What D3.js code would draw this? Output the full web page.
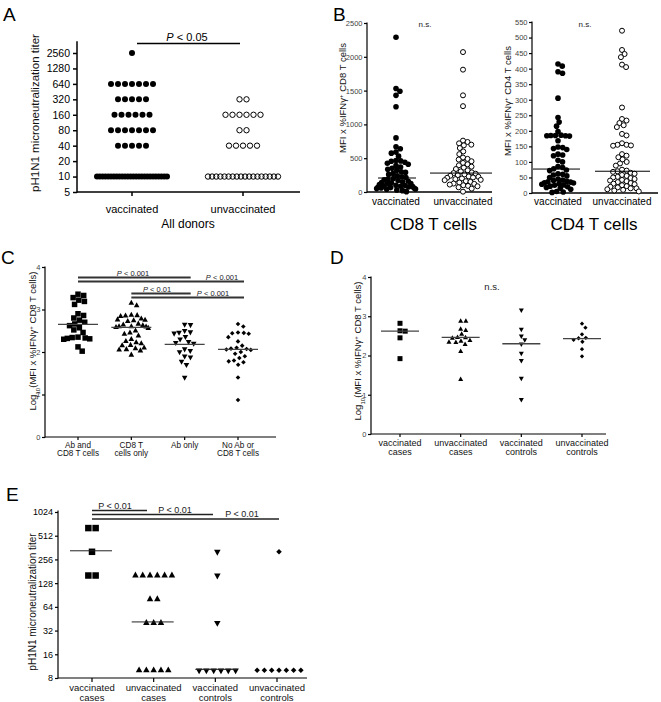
<!DOCTYPE html>
<html><head><meta charset="utf-8">
<script src="https://cdn.jsdelivr.net/npm/d3@7"></script>
<style>body{margin:0;background:#fff}</style>
</head><body><svg id="c" width="661" height="702"></svg>
<script>
// ---------------- DATA ----------------
const titerCats = ["vaccinated", "unvaccinated"];
const titerTicks = [5, 10, 20, 40, 80, 160, 320, 640, 1280, 2560];
const titerVacc = [2560,
  640, 640, 640, 640, 640, 640, 640,
  320, 320, 320, 320, 320,
  160, 160, 160, 160, 160, 160,
  80, 80, 80, 80, 80, 80, 80,
  40, 40, 40, 40, 40,
  10, 10, 10, 10, 10, 10, 10, 10, 10, 10, 10, 10, 10, 10, 10, 10, 10, 10, 10, 10, 10, 10, 10, 10, 10, 10];
const titerUnvacc = [320, 320,
  160, 160, 160, 160, 160, 160,
  80, 80,
  40, 40, 40, 40, 40,
  10, 10, 10, 10, 10, 10, 10, 10, 10, 10, 10, 10, 10, 10, 10, 10, 10, 10];

const cd8Ticks = [0, 500, 1000, 1500, 2000, 2500];
const cd8Vacc = [2290, 1530, 1490, 1430, 1260, 800, 670, 640, 590, 575, 530, 465, 460, 455, 440, 425, 410, 390, 370, 350, 335, 320, 300, 290, 275, 260, 240, 225, 215, 200, 190, 180, 170, 160, 150, 140, 135, 125, 120, 110, 100, 95, 90, 85, 80, 75, 70, 65, 60, 55, 50, 45, 40, 30, 20, 5];
const cd8Unvacc = [2070, 1810, 1430, 1270, 760, 740, 720, 700, 690, 650, 600, 560, 510, 490, 480, 455, 430, 410, 395, 375, 360, 340, 320, 305, 290, 280, 270, 260, 250, 240, 230, 225, 215, 210, 200, 190, 180, 175, 160, 150, 140, 125, 120, 110, 100, 90, 85, 70, 50, 5];
const cd8Medians = [207, 280];

const cd4Ticks = [0, 50, 100, 150, 200, 250, 300, 350, 400, 450, 500, 550];
const cd4Vacc = [415, 408, 390, 385, 305, 243, 228, 215, 198, 186, 185, 185, 184, 184, 183, 168, 148, 146, 143, 140, 125, 122, 120, 105, 100, 85, 82, 78, 74, 72, 62, 60, 58, 55, 50, 45, 42, 40, 38, 36, 35, 33, 32, 30, 28, 26, 25, 22, 20, 18, 15, 12, 5, 3, 2];
const cd4Unvacc = [522, 460, 447, 437, 413, 405, 275, 238, 233, 225, 218, 212, 190, 185, 160, 155, 155, 153, 152, 125, 120, 115, 108, 100, 95, 88, 75, 72, 70, 68, 65, 62, 58, 55, 52, 50, 48, 45, 42, 40, 38, 35, 32, 30, 28, 25, 22, 20, 18, 15, 15, 12, 10, 8, 5];
const cd4Medians = [77, 70];

const logTicks = [0, 1, 2, 3, 4];
const groupCats = [["Ab and", "CD8 T cells"], ["CD8 T", "cells only"], ["Ab only"], ["No Ab or", "CD8 T cells"]];
const groupAbCd8 = [3.36, 3.33, 3.28, 3.22, 3.19, 3.12, 2.9, 2.86, 2.8, 2.75, 2.7, 2.66, 2.62, 2.57, 2.52, 2.46, 2.35, 2.34, 2.33, 2.32, 2.31, 2.3, 2.12, 2.02];
const groupCd8Only = [3.15, 3.09, 2.87, 2.86, 2.85, 2.84, 2.78, 2.76, 2.75, 2.74, 2.72, 2.66, 2.64, 2.62, 2.6, 2.6, 2.59, 2.58, 2.56, 2.5, 2.45, 2.42, 2.38, 2.3, 2.25, 2.22, 2.2, 2.16, 2.15, 2.1, 2.08, 2.06, 2.05, 2.03, 1.93];
const groupAbOnly = [2.65, 2.64, 2.5, 2.47, 2.46, 2.44, 2.36, 2.3, 2.24, 2.22, 2.2, 2.07, 2.03, 2.0, 1.9, 1.88, 1.78, 1.7, 1.4];
const groupNone = [2.66, 2.6, 2.46, 2.45, 2.44, 2.43, 2.35, 2.25, 2.15, 2.1, 2.08, 2.07, 2.06, 2.05, 2.0, 1.96, 1.9, 1.86, 1.8, 1.78, 1.76, 1.7, 1.4, 0.87];
const groupMedians = [2.65, 2.58, 2.18, 2.06];
const groupTests = [
  {a: 0, b: 2, label: "P < 0.001"},
  {a: 0, b: 3, label: "P < 0.001"},
  {a: 1, b: 2, label: "P < 0.01"},
  {a: 1, b: 3, label: "P < 0.001"}];

const caseCats = [["vaccinated", "cases"], ["unvaccinated", "cases"], ["vaccinated", "controls"], ["unvaccinated", "controls"]];
const caseLogVC = [2.82, 2.63, 2.62, 2.45, 1.92];
const caseLogUC = [2.87, 2.87, 2.67, 2.64, 2.54, 2.46, 2.45, 2.44, 2.38, 2.36, 2.34, 2.33, 2.28, 2.1, 1.39];
const caseLogVK = [3.16, 2.67, 2.5, 2.4, 2.29, 2.06, 1.87, 1.42, 0.88];
const caseLogUK = [2.81, 2.71, 2.54, 2.45, 2.44, 2.4, 2.35, 2.16, 1.98];
const caseLogMedians = [2.62, 2.46, 2.3, 2.43];

const caseTiterTicks = [8, 16, 32, 64, 128, 256, 512, 1024];
const caseTiterVC = [640, 640, 320, 160, 160];
const caseTiterUC = [160, 160, 160, 160, 160, 160, 80, 80, 40, 40, 40, 10, 10, 10, 10, 10];
const caseTiterVK = [320, 160, 40, 10, 10, 10, 10, 10, 10];
const caseTiterUK = [320, 10, 10, 10, 10, 10, 10, 10];
const caseTiterMedians = [320, 40, 10, null];
const caseTiterTests = [
  {b: 1, label: "P < 0.01"},
  {b: 2, label: "P < 0.01"},
  {b: 3, label: "P < 0.01"}];

// ---------------- HELPERS ----------------
const FONT = '"Liberation Sans", Arial, Helvetica, sans-serif';
const svg = d3.select('#c').attr('font-family', FONT);

function yAxis(g, y, ticks, x, top, bottom, o) {
  const a = g.append('g').attr('transform', `translate(${x},0)`)
    .call(d3.axisLeft(y).tickValues(ticks).tickSize(o.ts).tickSizeOuter(0)
      .tickPadding(o.pad == null ? 2 : o.pad).tickFormat(o.fmt || d3.format('d')));
  a.select('.domain').remove();
  a.attr('font-family', FONT);
  a.selectAll('.tick line').attr('stroke', '#000').attr('stroke-width', o.sw);
  a.selectAll('.tick text').attr('font-size', o.fs).attr('fill', o.fill || '#000');
  a.append('line').attr('x1', 0).attr('x2', 0).attr('y1', top).attr('y2', bottom)
    .attr('stroke', '#000').attr('stroke-width', o.sw).attr('stroke-linecap', 'square');
}
function xAxis(g, xs, keys, y, left, right, o) {
  g.append('line').attr('x1', left).attr('x2', right).attr('y1', y).attr('y2', y)
    .attr('stroke', '#000').attr('stroke-width', o.sw);
  if (o.ts) keys.forEach(k => g.append('line').attr('x1', xs(k)).attr('x2', xs(k))
    .attr('y1', y).attr('y2', y + o.ts).attr('stroke', '#000').attr('stroke-width', o.sw));
}
function labels(g, xs, keys, lines, y0, lh, fs, fill) {
  keys.forEach((k, i) => {
    const t = g.append('text').attr('text-anchor', 'middle').attr('font-size', fs).attr('fill', fill || '#000');
    [].concat(lines[i]).forEach((s, j) => t.append('tspan').attr('x', xs(k)).attr('y', y0 + j * lh).text(s));
  });
}
function vTitle(g, x, y, fs, parts) {
  const t = g.append('text').attr('transform', `translate(${x},${y}) rotate(-90)`)
    .attr('text-anchor', 'middle').attr('font-size', fs).attr('fill', '#111');
  parts.forEach(p => {
    const s = t.append('tspan').text(p.t);
    if (p.sup) s.attr('baseline-shift', 'super').attr('font-size', fs * 0.65);
    if (p.sub) s.attr('baseline-shift', 'sub').attr('font-size', fs * 0.65);
  });
}
function pText(g, x, y, fs, label, fill, italic) {
  const t = g.append('text').attr('x', x).attr('y', y).attr('text-anchor', 'middle')
    .attr('font-size', fs).attr('fill', fill);
  t.append('tspan').attr('font-style', italic ? 'italic' : 'normal').text(label.slice(0, 1));
  t.append('tspan').text(label.slice(1));
}
function letter(x, y, s) {
  svg.append('text').attr('x', x).attr('y', y).attr('font-size', 19).text(s);
}
// beeswarm layout (optionally softly compressed to a maximum half-width)
function swarm(vals, y, cx, d, maxHalf) {
  const pts = vals.map(v => ({v, y: y(v)})).sort((a, b) => a.y - b.y);
  const placed = [];
  for (const p of pts) {
    const cands = [0];
    for (const q of placed) {
      const dy = Math.abs(q.y - p.y);
      if (dy < d) { const dx = Math.sqrt(d * d - dy * dy); cands.push(q.dx + dx + 0.01, q.dx - dx - 0.01); }
    }
    cands.sort((a, b) => Math.abs(a) - Math.abs(b));
    for (const c of cands) {
      if (placed.every(q => (q.dx - c) ** 2 + (q.y - p.y) ** 2 >= d * d - 0.02)) { p.dx = c; break; }
    }
    placed.push(p);
  }
  return placed.map(p => ({v: p.v, y: p.y,
    x: cx + (maxHalf ? maxHalf * Math.tanh(p.dx / maxHalf) : p.dx)}));
}
// row (column scatter) layout for tied values
function rows(vals, y, cx, step, maxW) {
  const groups = d3.group(vals, v => v);
  const out = [];
  for (const [v, arr] of groups) {
    const n = arr.length;
    const s = n > 1 ? Math.min(step, maxW / (n - 1)) : 0;
    arr.forEach((_, i) => out.push({v, y: y(v), x: cx + (i - (n - 1) / 2) * s}));
  }
  return out;
}
function shapePath(type, w) {
  const h = w * 0.9, r = w / 2;
  if (type === 'sq') return `M${-r},${-r}h${w}v${w}h${-w}Z`;
  if (type === 'up') return `M0,${-h * 2 / 3}L${r},${h / 3}L${-r},${h / 3}Z`;
  if (type === 'down') return `M0,${h * 2 / 3}L${r},${-h / 3}L${-r},${-h / 3}Z`;
  if (type === 'dia') return `M0,${-r}L${r},0L0,${r}L${-r},0Z`;
}
function drawPts(g, pts, type, w) {
  g.selectAll(null).data(pts).enter().append('path')
    .attr('d', shapePath(type, w)).attr('transform', d => `translate(${d.x},${d.y})`).attr('fill', '#000');
}
function circles(g, pts, r, open) {
  g.selectAll(null).data(pts).enter().append('circle')
    .attr('cx', d => d.x).attr('cy', d => d.y).attr('r', r)
    .attr('fill', open ? open : '#000').attr('stroke', '#000').attr('stroke-width', open ? 1 : 0);
}
function hline(g, x1, x2, y, sw, col) {
  g.append('line').attr('x1', x1).attr('x2', x2).attr('y1', y).attr('y2', y)
    .attr('stroke', col || '#000').attr('stroke-width', sw);
}

// ---------------- PANEL A ----------------
{
  const g = svg.append('g');
  const y = d3.scaleLog().base(2).domain([5, 2560]).range([192, 53]);
  const x = d3.scalePoint().domain(titerCats).range([132, 243]);
  yAxis(g, y, titerTicks, 77, 42, 192, {ts: 4, sw: 1.5, fs: 10.5, pad: 3});
  xAxis(g, x, titerCats, 192, 77, 300, {ts: 4, sw: 1.5});
  circles(g, rows(titerVacc, y, x('vaccinated'), 7, 70), 3);
  circles(g, rows(titerUnvacc, y, x('unvaccinated'), 7, 70), 2.7, 'none');
  labels(g, x, titerCats, titerCats, 213, 12, 11);
  g.append('text').attr('x', 188).attr('y', 228).attr('text-anchor', 'middle').attr('font-size', 12).text('All donors');
  vTitle(g, 39, 113, 11.5, [{t: 'pH1N1 microneutralization titer'}]);
  hline(g, 137, 240, 43.5, 1.5);
  pText(g, 187, 40.5, 11, 'P < 0.05', '#000', true);
  letter(3, 21, 'A');
}

// ---------------- PANEL B ----------------
function panelB(vals, medians, ticks, dom, yr, axX, axRight, cx, half, spread, titleX, titleY, cell, nsX) {
  const g = svg.append('g');
  const y = d3.scaleLinear().domain(dom).range(yr);
  const x = d3.scalePoint().domain(titerCats).range(cx);
  yAxis(g, y, ticks, axX, yr[1], yr[0], {ts: 3, sw: 1.2, fs: 7.5, fill: '#444', pad: 1.5});
  xAxis(g, x, titerCats, yr[0], axX, axRight, {ts: 0, sw: 1.3});
  circles(g, swarm(vals[0], y, x('vaccinated'), 4.8, spread[0]), 2.8);
  circles(g, swarm(vals[1], y, x('unvaccinated'), 4.8, spread[1]), 2.5, '#fff');
  titerCats.forEach((c, i) => hline(g, x(c) - half[i][0], x(c) + half[i][1], y(medians[i]), 1));
  labels(g, x, titerCats, titerCats, 205, 10, 10);
  g.append('text').attr('x', (cx[0] + cx[1]) / 2 + 4).attr('y', 230).attr('text-anchor', 'middle').attr('font-size', 17).text(cell + ' T cells');
  vTitle(g, titleX, titleY, 9.5, [{t: 'MFI x %IFNγ'}, {t: '+', sup: true}, {t: ' ' + cell + ' T cells'}]);
  g.append('text').attr('x', nsX).attr('y', 27).attr('text-anchor', 'middle').attr('font-size', 8).attr('fill', '#222').text('n.s.');
}
panelB([cd8Vacc, cd8Unvacc], cd8Medians, cd8Ticks, [0, 2500], [192, 23], 367, 492, [396, 463], [[18, 20], [33, 29]], [22, 27], 346, 98, 'CD8', 425);
panelB([cd4Vacc, cd4Unvacc], cd4Medians, cd4Ticks, [0, 550], [193, 22], 532, 658, [558, 622], [[25, 22], [27, 28]], [23, 26], 511, 101, 'CD4', 585);
letter(333, 21, 'B');

// ---------------- PANEL C ----------------
{
  const g = svg.append('g');
  const keys = d3.range(groupCats.length);
  const y = d3.scaleLinear().domain([0, 4]).range([437, 267]);
  const x = d3.scalePoint().domain(keys).range([78, 238]);
  yAxis(g, y, logTicks, 45, 267, 437, {ts: 3, sw: 1.2, fs: 7.5, fill: '#444', pad: 1.5});
  xAxis(g, x, keys, 437, 45, 276, {ts: 3, sw: 1.2});
  const sets = [groupAbCd8, groupCd8Only, groupAbOnly, groupNone];
  const types = [['sq', 5.5], ['up', 5.6], ['down', 5.6], ['dia', 4.6]];
  sets.forEach((s, i) => drawPts(g, swarm(s, y, x(i), 6, 20), types[i][0], types[i][1]));
  groupMedians.forEach((m, i) => hline(g, x(i) - 20, x(i) + 20, y(m), 1.3, '#444'));
  labels(g, x, keys, groupCats, 448, 8.2, 8.2, '#111');
  vTitle(g, 36, 341, 9.5, [{t: 'Log'}, {t: '10', sub: true}, {t: '(MFI x %IFNγ'}, {t: '+', sup: true}, {t: ' CD8 T cells)'}]);
  const lineY = [277.5, 281.5, 293.5, 297.5];
  const textX = [133, 222, 157, 213];
  groupTests.forEach((t, i) => {
    hline(g, x(t.a), x(t.b) + 6, lineY[i], 1.8, '#333');
    pText(g, textX[i], lineY[i] - 2, 7.5, t.label, '#222', true);
  });
  letter(1, 264, 'C');
}

// ---------------- PANEL D ----------------
{
  const g = svg.append('g');
  const keys = d3.range(caseCats.length);
  const y = d3.scaleLinear().domain([0, 4]).range([434, 277]);
  const x = d3.scalePoint().domain(keys).range([400, 582]);
  yAxis(g, y, logTicks, 371, 277, 434, {ts: 3, sw: 1.2, fs: 7.5, fill: '#444', pad: 1.5});
  xAxis(g, x, keys, 434, 371, 606, {ts: 3, sw: 1.2});
  const sets = [caseLogVC, caseLogUC, caseLogVK, caseLogUK];
  const types = [['sq', 5], ['up', 5], ['down', 5], ['dia', 4.3]];
  sets.forEach((s, i) => drawPts(g, swarm(s, y, x(i), 5.2), types[i][0], types[i][1]));
  caseLogMedians.forEach((m, i) => hline(g, x(i) - 19, x(i) + 19, y(m), 1.3, '#444'));
  labels(g, x, keys, caseCats, 446, 9, 9, '#111');
  vTitle(g, 361, 351, 9.5, [{t: 'Log'}, {t: '10', sub: true}, {t: '(MFI x %IFNγ'}, {t: '+', sup: true}, {t: ' CD8 T cells)'}]);
  g.append('text').attr('x', 492).attr('y', 290).attr('text-anchor', 'middle').attr('font-size', 9.5).attr('fill', '#222').text('n.s.');
  letter(330, 264, 'D');
}

// ---------------- PANEL E ----------------
{
  const g = svg.append('g');
  const keys = d3.range(caseCats.length);
  const y = d3.scaleLog().base(2).domain([8, 1024]).range([678, 512]);
  const x = d3.scalePoint().domain(keys).range([92, 277]);
  yAxis(g, y, caseTiterTicks, 58, 511, 678, {ts: 3, sw: 1.2, fs: 9, pad: 2});
  xAxis(g, x, keys, 678, 58, 307, {ts: 4, sw: 1.2});
  const sets = [caseTiterVC, caseTiterUC, caseTiterVK, caseTiterUK];
  const types = [['sq', 6.5], ['up', 6.5], ['down', 6.5], ['dia', 5.5]];
  sets.forEach((s, i) => drawPts(g, rows(s, y, x(i) + (i >= 2 ? 2 : 0), 7.3, 60), types[i][0], types[i][1]));
  caseTiterMedians.forEach((m, i) => { if (m != null) hline(g, x(i) - 22 + (i >= 2 ? 2 : 0), x(i) + 20 + (i >= 2 ? 2 : 0), y(m) - 1, 1, '#222'); });
  labels(g, x, keys, caseCats, 691, 9.5, 9.5, '#111');
  vTitle(g, 36, 602, 10, [{t: 'pH1N1 microneutralization titer'}]);
  const lineY = [510.5, 514.5, 519];
  const textX = [115, 175, 242];
  const ends = [147, 213, 279];
  caseTiterTests.forEach((t, i) => {
    hline(g, x(0), ends[i], lineY[i], 1.5, '#222');
    pText(g, textX[i], lineY[i] - 2, 9, t.label, '#222', false);
  });
  letter(6, 501, 'E');
}
</script></body></html>
